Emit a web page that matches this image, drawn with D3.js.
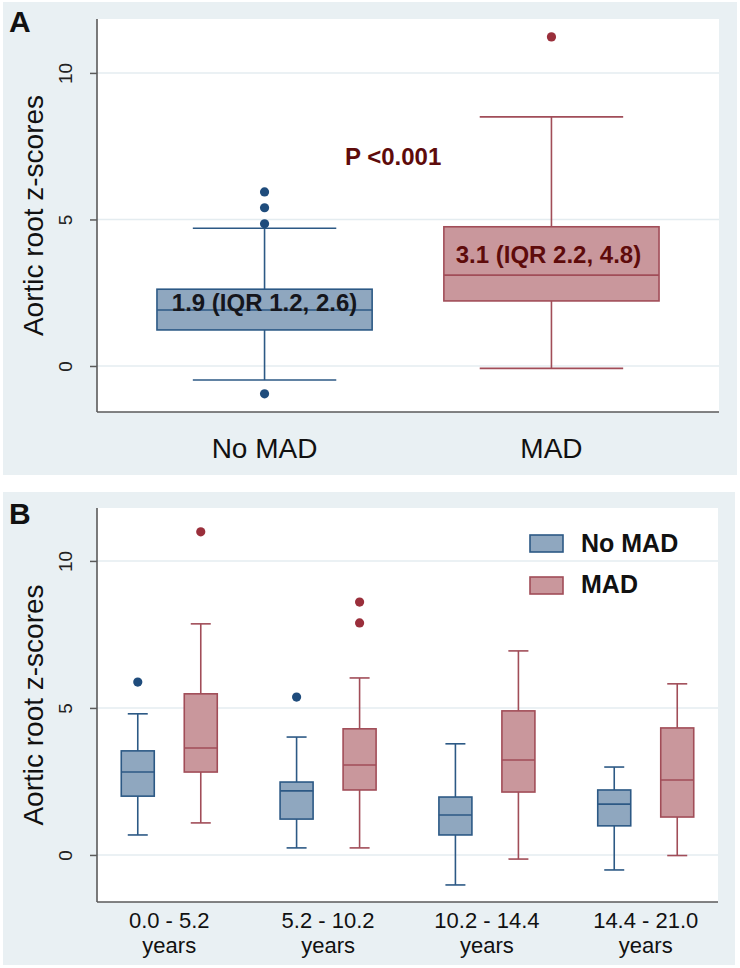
<!DOCTYPE html>
<html>
<head>
<meta charset="utf-8">
<script src="https://cdn.jsdelivr.net/npm/d3@7"></script>
<style>
  html, body { margin: 0; padding: 0; background: #ffffff; }
  svg { display: block; }
  text { font-family: "Liberation Sans", Arial, sans-serif; }
</style>
</head>
<body>
<svg id="chart" width="740" height="968"></svg>
<script>
// ---------- Data ----------
// Panel A
const groupsA = ["No MAD", "MAD"];
const q1A = [1.23, 2.22];
const medianA = [1.91, 3.1];
const q3A = [2.62, 4.75];
const whiskerLowA = [-0.48, -0.08];
const whiskerHighA = [4.7, 8.5];
const outliersA = [[-0.95, 4.85, 5.4, 5.94], [11.23]];
const annotA = ["1.9 (IQR 1.2, 2.6)", "3.1 (IQR 2.2, 4.8)"];
const pValueText = "P <0.001";

// Panel B
const ageGroups = ["0.0 - 5.2", "5.2 - 10.2", "10.2 - 14.4", "14.4 - 21.0"];
const ageUnit = "years";
const seriesB = ["No MAD", "MAD"];
const q1NoMAD = [2.0, 1.22, 0.68, 0.99];
const medNoMAD = [2.82, 2.18, 1.36, 1.73];
const q3NoMAD = [3.54, 2.48, 1.97, 2.21];
const loNoMAD = [0.68, 0.24, -1.02, -0.51];
const hiNoMAD = [4.8, 4.01, 3.78, 2.99];
const outNoMAD = [[5.88], [5.37], [], []];
const q1MAD = [2.82, 2.21, 2.14, 1.29];
const medMAD = [3.64, 3.06, 3.23, 2.55];
const q3MAD = [5.48, 4.29, 4.9, 4.32];
const loMAD = [1.09, 0.24, -0.14, -0.02];
const hiMAD = [7.86, 6.02, 6.94, 5.82];
const outMAD = [[10.99], [8.6, 7.89], [], []];

const yTicks = [0, 5, 10];
const yTitle = "Aortic root z-scores";

// ---------- Styles ----------
const panelBg = "#e9f0f3";
const gridColor = "#e4ecf0";
const axisColor = "#5a5a5a";
const blueFill = "#8fa7bf", blueStroke = "#2c5985", blueDot = "#1f4c7c";
const redFill = "#c9979c", redStroke = "#a14d58", redDot = "#9a2f3b";
const darkRed = "#5e0b0b";

const svg = d3.select("#chart");

function drawPanel(opt) {
  const g = svg.append("g");
  g.append("rect").attr("x", opt.bg[0]).attr("y", opt.bg[1])
    .attr("width", opt.bg[2]).attr("height", opt.bg[3]).attr("fill", panelBg);
  g.append("rect").attr("x", opt.left).attr("y", opt.top)
    .attr("width", opt.right - opt.left).attr("height", opt.bottom - opt.top)
    .attr("fill", "#ffffff");
  const y = d3.scaleLinear().domain(opt.ydom).range([opt.bottom, opt.top]);
  // grid
  g.selectAll(".grid").data(yTicks).enter().append("line")
    .attr("x1", opt.left).attr("x2", opt.right)
    .attr("y1", d => y(d)).attr("y2", d => y(d))
    .attr("stroke", gridColor).attr("stroke-width", 1.5);
  // y axis
  const ax = g.append("g").attr("transform", `translate(${opt.left},0)`)
    .call(d3.axisLeft(y).tickValues(yTicks).tickSize(7).tickPadding(10).tickFormat(d3.format("d")));
  ax.select(".domain").remove();
  ax.selectAll(".tick line").attr("stroke", axisColor).attr("stroke-width", 1.5);
  ax.selectAll(".tick text")
    .attr("transform", "rotate(-90)")
    .attr("x", 0).attr("y", -25)
    .attr("dy", "0")
    .attr("text-anchor", "middle")
    .attr("fill", "#222")
    .style("font-size", "19px");
  // axis lines
  g.append("line").attr("x1", opt.left).attr("x2", opt.left)
    .attr("y1", opt.top).attr("y2", opt.bottom).attr("stroke", axisColor).attr("stroke-width", 1.6);
  g.append("line").attr("x1", opt.left).attr("x2", opt.right)
    .attr("y1", opt.bottom).attr("y2", opt.bottom).attr("stroke", axisColor).attr("stroke-width", 1.6);
  // y title
  g.append("text")
    .attr("transform", `translate(43,${(opt.top + opt.bottom) / 2}) rotate(-90)`)
    .attr("text-anchor", "middle").style("font-size", "28px").attr("fill", "#111")
    .text(yTitle);
  // panel letter
  g.append("text").attr("x", 9).attr("y", opt.letterY)
    .style("font-size", "30px").style("font-weight", "bold").attr("fill", "#111")
    .text(opt.letter);
  return { g, y };
}

function drawBox(g, y, cx, bw, capw, q1, med, q3, lo, hi, outs, fill, stroke, dot) {
  g.append("line").attr("x1", cx).attr("x2", cx).attr("y1", y(q3)).attr("y2", y(hi))
    .attr("stroke", stroke).attr("stroke-width", 1.6);
  g.append("line").attr("x1", cx).attr("x2", cx).attr("y1", y(q1)).attr("y2", y(lo))
    .attr("stroke", stroke).attr("stroke-width", 1.6);
  g.append("line").attr("x1", cx - capw / 2).attr("x2", cx + capw / 2).attr("y1", y(hi)).attr("y2", y(hi))
    .attr("stroke", stroke).attr("stroke-width", 1.6);
  g.append("line").attr("x1", cx - capw / 2).attr("x2", cx + capw / 2).attr("y1", y(lo)).attr("y2", y(lo))
    .attr("stroke", stroke).attr("stroke-width", 1.6);
  g.append("rect").attr("x", cx - bw / 2).attr("y", y(q3)).attr("width", bw)
    .attr("height", y(q1) - y(q3)).attr("fill", fill).attr("stroke", stroke).attr("stroke-width", 1.6);
  g.append("line").attr("x1", cx - bw / 2).attr("x2", cx + bw / 2).attr("y1", y(med)).attr("y2", y(med))
    .attr("stroke", stroke).attr("stroke-width", 1.6);
  g.selectAll(null).data(outs).enter().append("circle")
    .attr("cx", cx).attr("cy", d => y(d)).attr("r", 4.6).attr("fill", dot);
}

// ---------- Panel A ----------
const A = drawPanel({ bg: [3, 2, 734, 473], left: 97, right: 719, top: 19, bottom: 412,
  ydom: [-1.57, 11.84], letter: "A", letterY: 32 });
const xA = d3.scalePoint().domain(groupsA).range([97, 719]).padding(0.584);
const stepA = xA.step();
const fillsA = [blueFill, redFill], strokesA = [blueStroke, redStroke], dotsA = [blueDot, redDot];
groupsA.forEach((gname, i) => {
  drawBox(A.g, A.y, xA(gname), stepA * 0.75, stepA * 0.5, q1A[i], medianA[i], q3A[i],
    whiskerLowA[i], whiskerHighA[i], outliersA[i], fillsA[i], strokesA[i], dotsA[i]);
});
// x labels
A.g.selectAll(".xl").data(groupsA).enter().append("text")
  .attr("x", d => xA(d)).attr("y", 458).attr("text-anchor", "middle")
  .style("font-size", "28px").attr("fill", "#111").text(d => d);
// annotations
A.g.append("text").attr("x", xA("No MAD")).attr("y", A.y(medianA[0]) + 0.5)
  .attr("text-anchor", "middle").style("font-size", "24px").style("font-weight", "bold")
  .attr("fill", "#15161c").text(annotA[0]);
A.g.append("text").attr("x", xA("MAD") - 3).attr("y", A.y(medianA[1]) - 12)
  .attr("text-anchor", "middle").style("font-size", "24px").style("font-weight", "bold")
  .attr("fill", darkRed).text(annotA[1]);
A.g.append("text").attr("x", 345).attr("y", 165)
  .style("font-size", "24px").style("font-weight", "bold")
  .attr("fill", darkRed).text(pValueText);

// ---------- Panel B ----------
const B = drawPanel({ bg: [3, 492, 732, 473], left: 97, right: 718, top: 508, bottom: 902,
  ydom: [-1.6, 11.8], letter: "B", letterY: 524 });
const xB = d3.scalePoint().domain(ageGroups).range([97, 718]).padding(0.455);
const bwB = 33, offB = 31.5, capB = 20;
ageGroups.forEach((a, i) => {
  const cx = xB(a);
  drawBox(B.g, B.y, cx - offB, bwB, capB, q1NoMAD[i], medNoMAD[i], q3NoMAD[i],
    loNoMAD[i], hiNoMAD[i], outNoMAD[i], blueFill, blueStroke, blueDot);
  drawBox(B.g, B.y, cx + offB, bwB, capB, q1MAD[i], medMAD[i], q3MAD[i],
    loMAD[i], hiMAD[i], outMAD[i], redFill, redStroke, redDot);
});
// x labels (two lines)
B.g.selectAll(".xlb1").data(ageGroups).enter().append("text")
  .attr("x", d => xB(d)).attr("y", 928).attr("text-anchor", "middle")
  .style("font-size", "22px").attr("fill", "#111").text(d => d);
B.g.selectAll(".xlb2").data(ageGroups).enter().append("text")
  .attr("x", d => xB(d)).attr("y", 953).attr("text-anchor", "middle")
  .style("font-size", "22px").attr("fill", "#111").text(ageUnit);
// legend
const legFill = [blueFill, redFill], legStroke = [blueStroke, redStroke];
seriesB.forEach((s, i) => {
  B.g.append("rect").attr("x", 530).attr("y", 535 + i * 42).attr("width", 33).attr("height", 17)
    .attr("fill", legFill[i]).attr("stroke", legStroke[i]).attr("stroke-width", 1.6);
  B.g.append("text").attr("x", 581).attr("y", 552 + i * 41)
    .style("font-size", "25px").style("font-weight", "bold").attr("fill", "#111").text(s);
});
</script>
</body>
</html>
